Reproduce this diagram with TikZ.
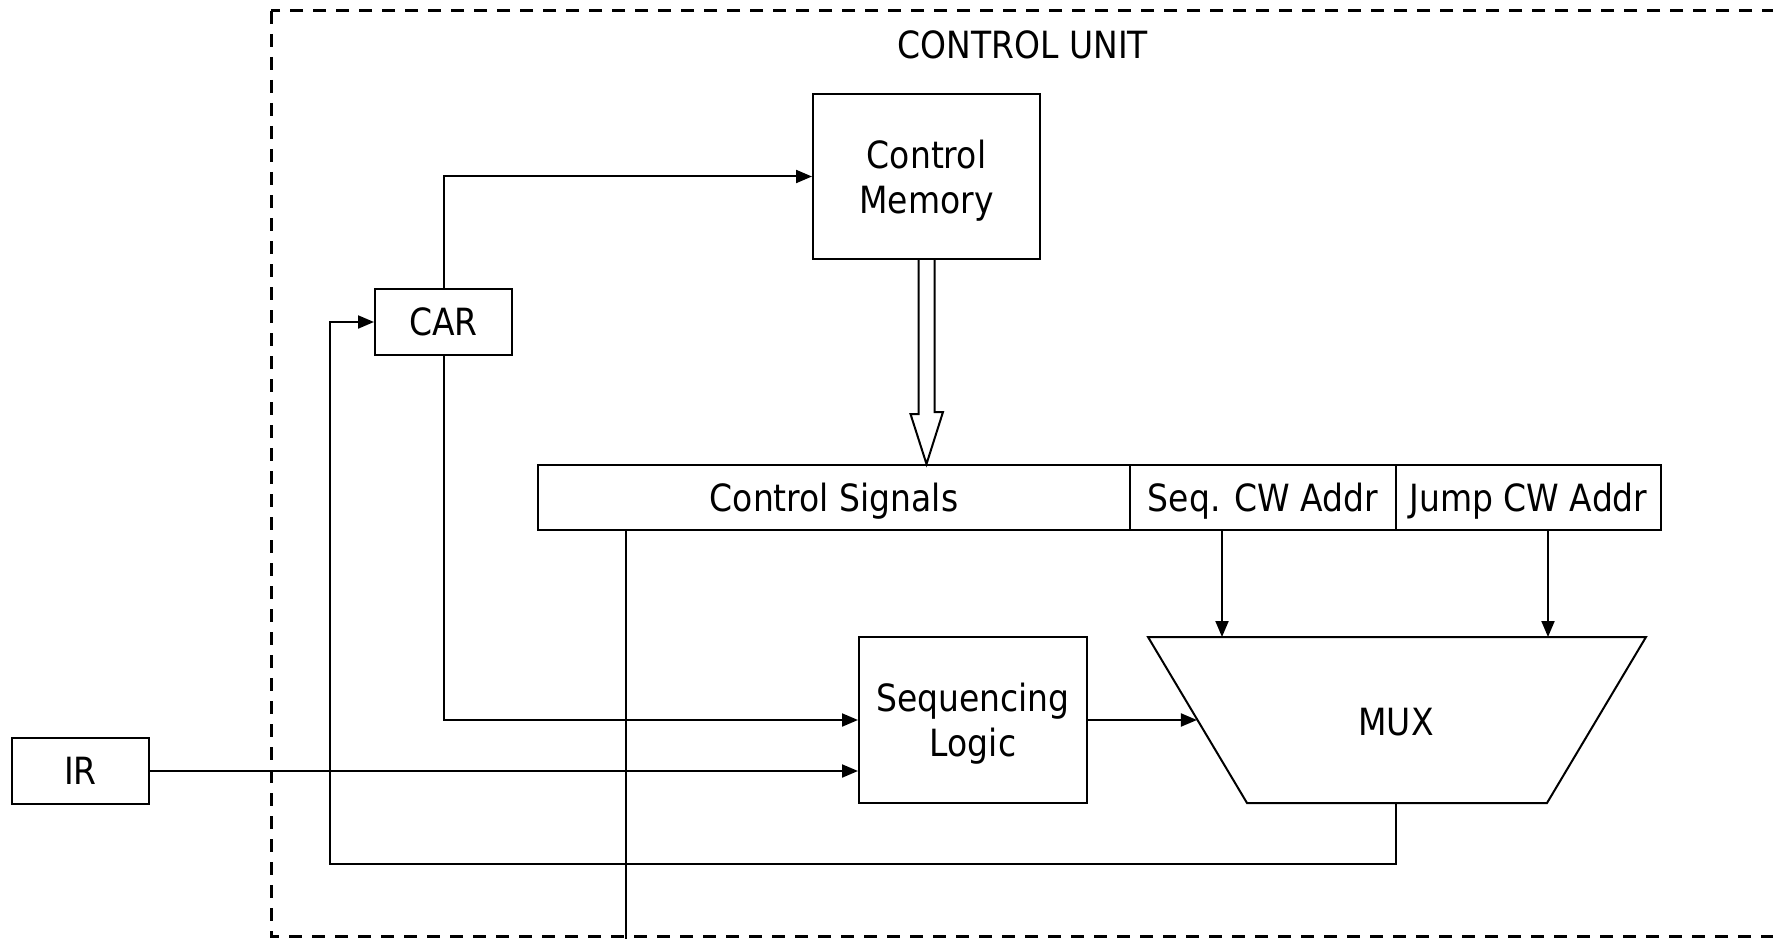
\documentclass[tikz,border=0pt]{standalone}
\usepackage{fontspec}
\newfontfamily\unitfont{DejaVu Sans}[FakeStretch=0.88]
\usepackage{tikz}
\usetikzlibrary{arrows.meta, positioning, calc}

\begin{document}
\begin{tikzpicture}[x=1pt, y=-1pt,
    font=\unitfont\fontsize{37.5}{45}\selectfont,
    blk/.style={draw, line width=2pt, align=center, inner sep=0pt, text depth=0pt},
    wire/.style={line width=2pt},
    sig/.style={line width=2pt, -{Triangle[length=16pt, width=13pt]}}]
            \clip (0,0) rectangle (1773,939);
            \fill[white] (0,0) rectangle (1773,939);
            % control unit boundary
            \draw[line width=3pt, dash pattern=on 13pt off 10pt] (271,11) rectangle (1800,936);
            \node (cu) at (1023,45) {CONTROL UNIT};
            % blocks
            \node[blk, minimum width=227pt, minimum height=165pt] (cm) at (926.5,176.5) {Control\\Memory};
            \node[blk, minimum width=137pt, minimum height=66pt] (car) at (443.5,322) {CAR};
            \node[blk, minimum width=592pt, minimum height=65pt] (cs) at (834,497.5) {Control Signals};
            \node[blk, minimum width=266pt, minimum height=65pt] (seq) at (1263,497.5) {Seq. CW Addr};
            \node[blk, minimum width=265pt, minimum height=65pt] (jump) at (1528.5,497.5) {Jump CW Addr};
            \node[blk, minimum width=228pt, minimum height=166pt] (sl) at (973,720) {Sequencing\\Logic};
            \node[blk, minimum width=137pt, minimum height=66pt] (ir) at (80.5,771) {IR};
            % multiplexer
            \coordinate (mtl) at (1148,637);
            \coordinate (mtr) at (1646,637);
            \coordinate (mbr) at (1547,803);
            \coordinate (mbl) at (1247,803);
            \draw[wire] (mtl) -- (mtr) -- (mbr) -- (mbl) -- cycle;
            \node (mux) at (1396,722) {MUX};
            \coordinate (muxin) at ($(mtl)!0.4945!(mbl)$);
            \coordinate (muxa) at (1222,637);
            \coordinate (muxb) at (1548,637);
            \coordinate (muxout) at (1396,803);
            \coordinate (fb) at (330,864);
            \coordinate (csout) at (626,939);
            % connections
            \draw[sig] (car.north) |- (cm.west);
            \draw[sig] (car.south) |- (sl.west);
            \draw[sig] (ir.east) -- (ir.east -| sl.west);
            \draw[sig] (sl.east) -- (sl.east -| muxin);
            \draw[sig] (seq.south -| muxa) -- (muxa);
            \draw[sig] (jump.south -| muxb) -- (muxb);
            \draw[sig] (muxout) |- (fb) |- (car.west);
            \draw[wire] (cs.south -| csout) -- (csout);
            % wide arrow from memory to the control word
            \draw[line width=2pt, fill=white] ($(cm.south)+(-8,0)$) -- ++(0,154) -- ++(-8,0)
                -- (cm.south |- cs.north) -- ++(16.5,-52) -- ++(-8.5,0) -- ($(cm.south)+(8,0)$);
        \end{tikzpicture}
\end{document}
